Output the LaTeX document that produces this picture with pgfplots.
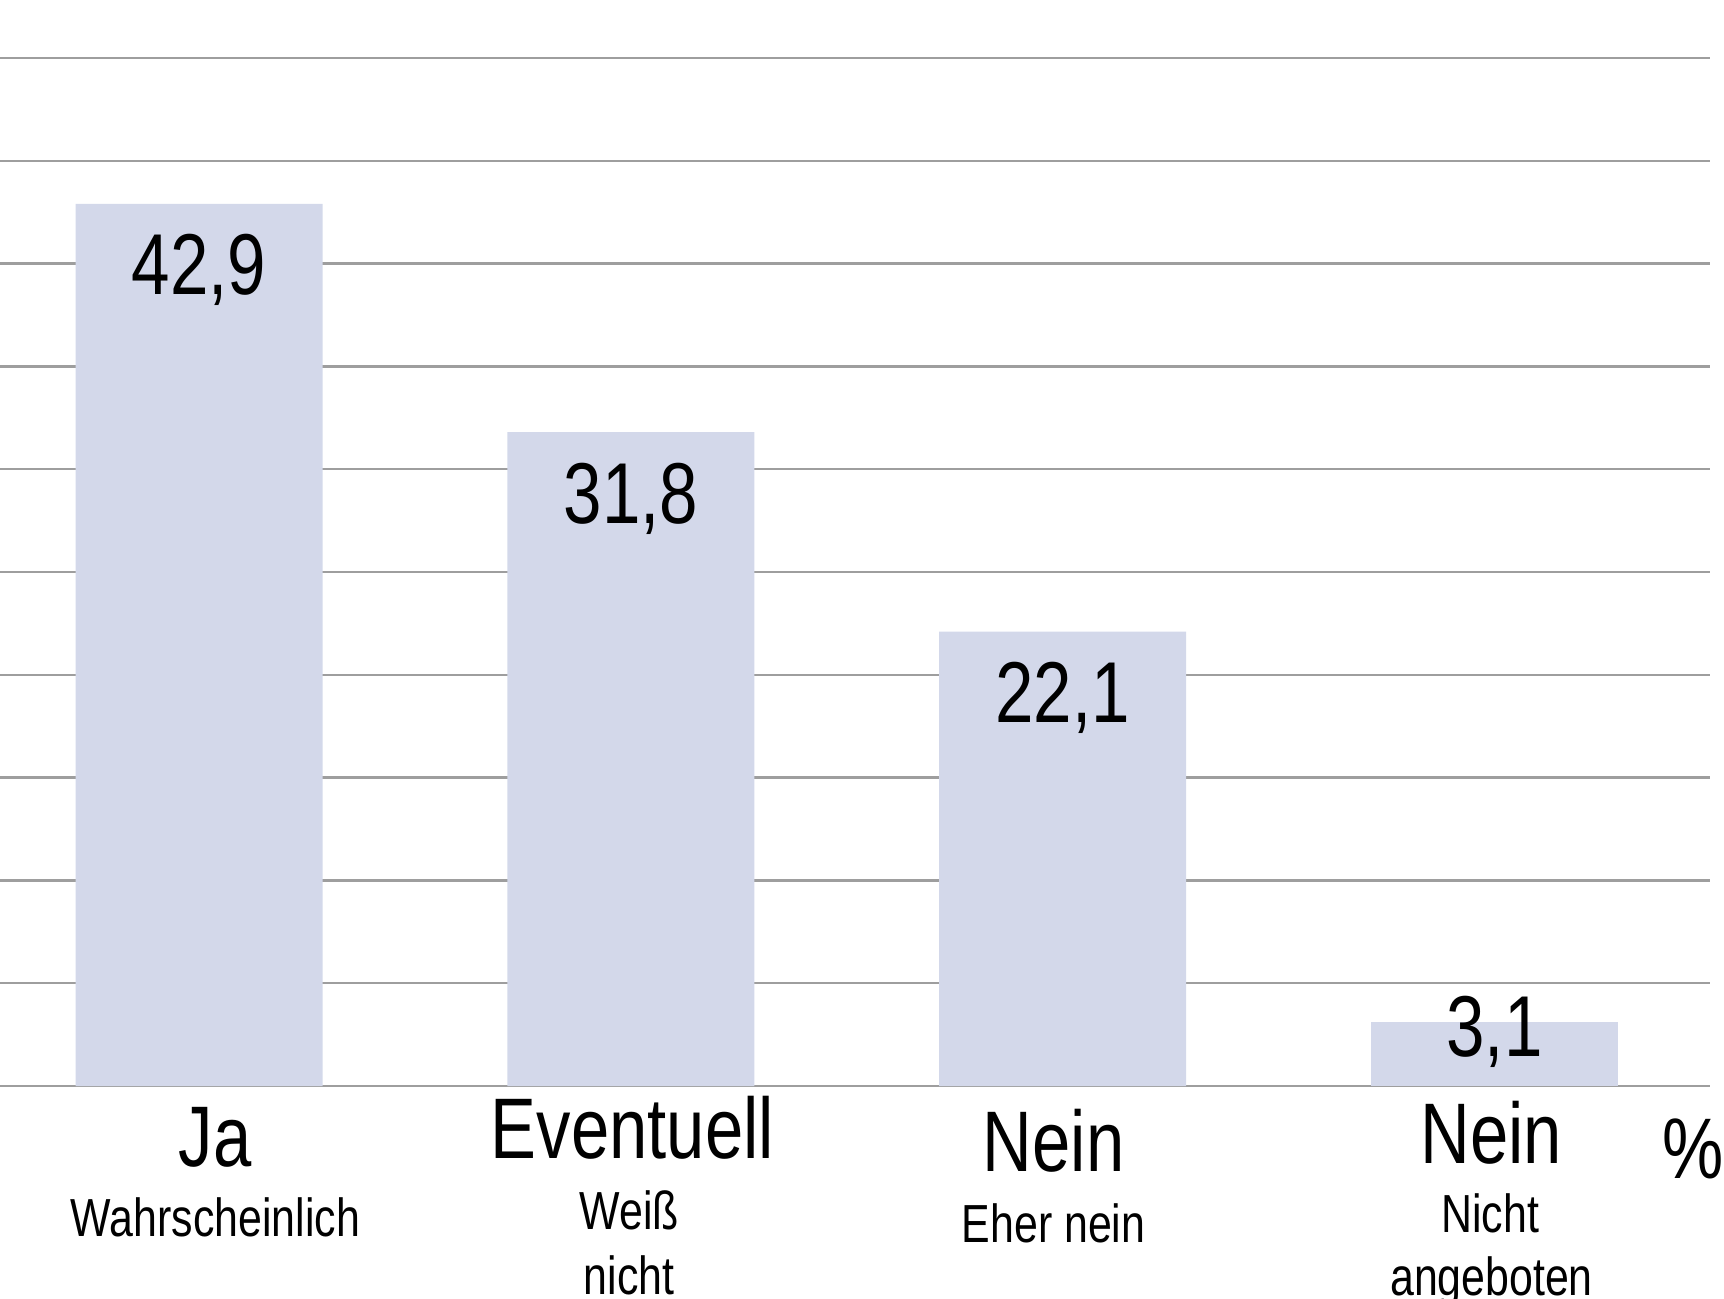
\documentclass[border=0pt]{standalone}
\usepackage{pgfplots}
\pgfplotsset{compat=1.18}
\usepackage{fontspec}
\setmainfont[FakeStretch=0.8]{Liberation Sans}
\definecolor{barcol}{RGB}{211,216,234}
\definecolor{gridgray}{RGB}{158,158,158}
\newcommand{\bigf}{\fontsize{21.5}{24}\selectfont}
\newcommand{\smallf}{\fontsize{13.4}{15}\selectfont}

\begin{document}
\begin{tikzpicture}
\useasboundingbox (0pt,-53pt) rectangle (431pt,271.5pt);
\begin{axis}[
  at={(0pt,0pt)}, anchor=south west,
  scale only axis,
  width=427.5pt, height=257pt,
  xmin=-0.461, xmax=3.499,
  ymin=0, ymax=50,
  ytick={0,5,...,50},
  yticklabels={},
  xtick=\empty,
  major tick length=0pt,
  ymajorgrids,
  grid style={gridgray, line width=0.6pt},
  axis x line*=bottom,
  axis y line*=left,
  y axis line style={draw=none},
  x axis line style={gridgray, line width=0.6pt, -},
  clip=false,
  /pgf/number format/assume math mode=true,
  barstyle/.style={ybar, bar width=0.572, bar shift=0pt, fill=barcol, draw=none,
    nodes near coords={\pgfmathprintnumber[fixed,precision=1,fixed zerofill,use comma]{\pgfplotspointmeta}},
    every node near coord/.append style={anchor=base, yshift=#1, font=\fontsize{21.6}{24}\selectfont, text=black, inner sep=0pt}},
]
\addplot[barstyle=-22.75pt] coordinates {(0,42.9) (1,31.8) (2,22.1)};
\addplot[barstyle=-8.5pt] coordinates {(3,3.1)};

\node[anchor=base, inner sep=0pt] at (axis cs:0.037,-3.891) {\bigf Ja};
\node[anchor=base, inner sep=0pt] at (axis cs:0.038,-7.296) {\smallf Wahrscheinlich};
\node[anchor=base, inner sep=0pt] at (axis cs:1.0035,-3.502) {\bigf Eventuell};
\node[anchor=base, inner sep=0pt] at (axis cs:0.996,-6.955) {\smallf Weiß};
\node[anchor=base, inner sep=0pt] at (axis cs:0.996,-10.117) {\smallf nicht};
\node[anchor=base, inner sep=0pt] at (axis cs:1.979,-4.134) {\bigf Nein};
\node[anchor=base, inner sep=0pt] at (axis cs:1.979,-7.588) {\smallf Eher nein};
\node[anchor=base, inner sep=0pt] at (axis cs:2.993,-3.745) {\bigf Nein};
\node[anchor=base, inner sep=0pt] at (axis cs:2.990,-7.101) {\smallf Nicht};
\node[anchor=base, inner sep=0pt] at (axis cs:2.993,-10.165) {\smallf angeboten};
\node[anchor=base, inner sep=0pt] at (axis cs:3.46,-4.475) {\bigf \%};
\end{axis}
\end{tikzpicture}
\end{document}
